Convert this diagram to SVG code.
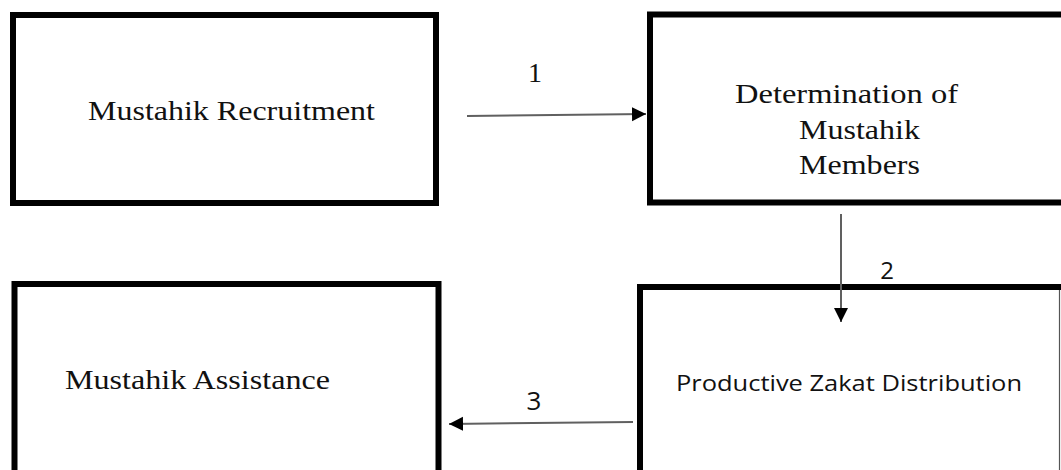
<svg xmlns="http://www.w3.org/2000/svg" width="1061" height="470" viewBox="0 0 1061 470">
<style>
.box{fill:#fff;stroke:#000;stroke-width:6}
.serif{font-family:"Liberation Serif","Times New Roman",serif;fill:#111}
.sans{font-family:"Open Sans","Noto Sans",sans-serif;fill:#111}
.conn{stroke:#606060;stroke-width:2;fill:none;marker-end:url(#ah)}
</style>
<defs>
<marker id="ah" markerUnits="userSpaceOnUse" markerWidth="16" markerHeight="16" refX="14" refY="7" orient="auto">
<path d="M0,0 L14,7 L0,14 Z" fill="#000"/>
</marker>
</defs>
<rect width="1061" height="470" fill="#fff"/>
<g id="node-recruitment">
<rect class="box" x="13" y="15" width="423" height="188"/>
<text class="serif" x="88" y="120" font-size="28" textLength="287" lengthAdjust="spacingAndGlyphs">Mustahik Recruitment</text>
</g>
<g id="node-determination">
<rect class="box" x="650" y="14.5" width="420" height="188" stroke-width="5"/>
<text class="serif" x="735" y="103" font-size="28" textLength="223" lengthAdjust="spacingAndGlyphs">Determination of</text>
<text class="serif" x="799" y="139" font-size="28" textLength="121" lengthAdjust="spacingAndGlyphs">Mustahik</text>
<text class="serif" x="799" y="174" font-size="28" textLength="121" lengthAdjust="spacingAndGlyphs">Members</text>
</g>
<g id="node-assistance">
<rect class="box" x="14.5" y="284" width="424" height="200" stroke-width="5.5"/>
<text class="serif" x="65" y="389" font-size="28" textLength="265" lengthAdjust="spacingAndGlyphs">Mustahik Assistance</text>
</g>
<g id="node-distribution">
<rect class="box" x="640" y="287" width="425" height="200"/>
<line x1="1059.5" y1="290" x2="1059.5" y2="470" stroke="#555" stroke-width="1.2"/>
<text class="sans" x="676" y="391" font-size="22" textLength="346" lengthAdjust="spacingAndGlyphs">Productive Zakat Distribution</text>
</g>
<g id="connectors">
<line class="conn" x1="467" y1="116" x2="646" y2="114"/>
<line class="conn" x1="841" y1="214" x2="841" y2="322"/>
<line class="conn" x1="633" y1="422" x2="449" y2="424"/>
<text class="serif" x="535" y="82" font-size="28" text-anchor="middle">1</text>
<text class="sans" x="887" y="279" font-size="24" text-anchor="middle">2</text>
<text class="sans" x="534" y="410" font-size="26" text-anchor="middle">3</text>
</g>
</svg>
